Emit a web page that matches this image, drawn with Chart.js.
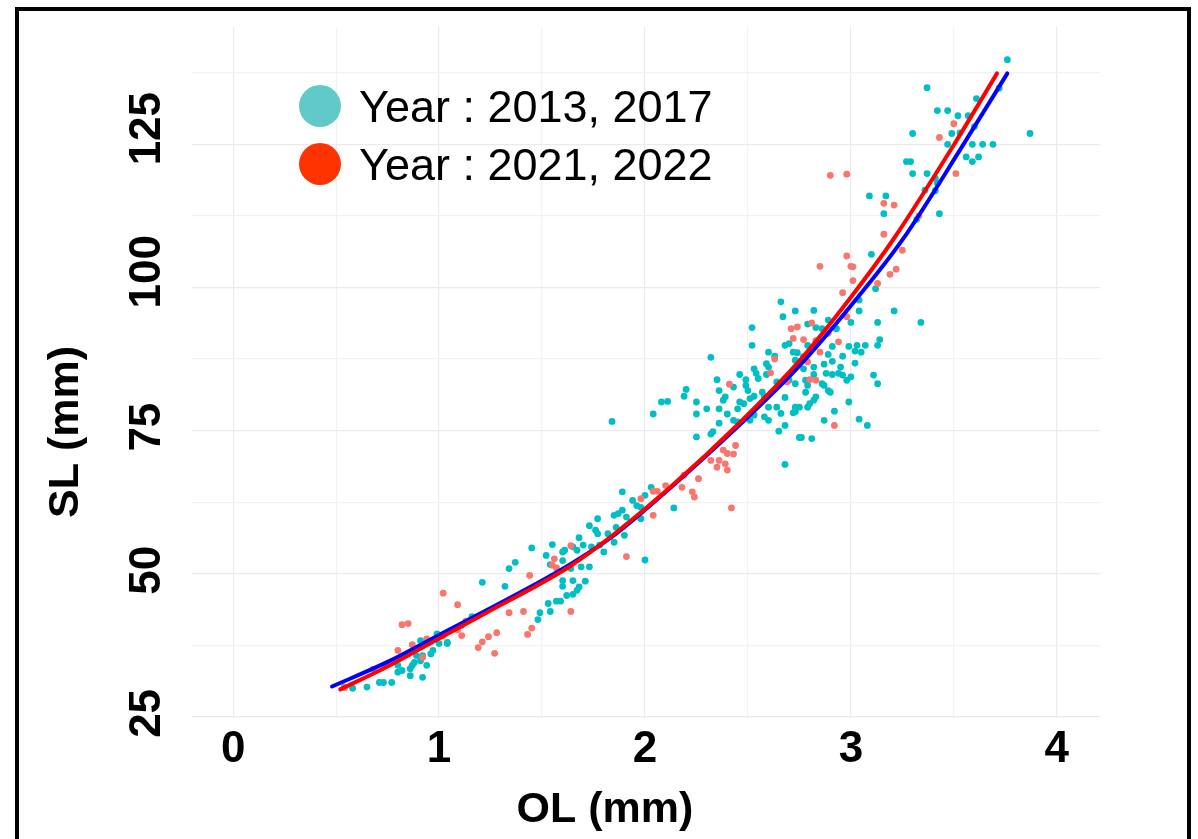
<!DOCTYPE html>
<html>
<head>
<meta charset="utf-8">
<title>SL vs OL</title>
<script src="https://cdn.jsdelivr.net/npm/chart.js@4.4.1/dist/chart.umd.min.js"></script>
<style>
  html, body { margin: 0; padding: 0; background: #ffffff; }
  #wrap { position: relative; width: 1198px; height: 839px; overflow: hidden; }
  #c { position: absolute; left: 0; top: 0; }
  #frame { position: absolute; left: 15px; top: 7px; width: 1176px; height: 900px; box-sizing: border-box;
           border: 4px solid #000; border-bottom: none; pointer-events: none; }
</style>
</head>
<body>
<div id="wrap">
  <canvas id="c" width="1198" height="839"></canvas>
  <div id="frame"></div>
</div>
<script>
// ---- Sampled otoliths, years 2013 & 2017: OL (mm) and SL (mm) ----
const olYearsA = [0.54,0.58,0.65,0.71,0.73,0.77,0.80,0.80,0.82,0.86,0.86,0.87,0.88,0.89,0.91,0.91,0.92,0.92,0.94,0.96,0.97,0.99,1.00,1.04,1.04,1.11,1.16,1.21,
  1.32,1.34,1.37,1.45,1.48,1.49,1.52,1.53,1.54,1.54,1.55,1.57,1.59,1.60,1.60,1.60,1.60,1.61,1.62,1.64,1.65,1.65,1.65,1.67,1.67,1.68,1.68,1.69,1.70,1.71,
  1.73,1.73,1.74,1.76,1.77,1.77,1.78,1.80,1.82,1.84,1.85,1.85,1.86,1.87,1.89,1.89,1.90,1.91,1.94,1.96,1.98,1.98,2.00,2.00,2.03,2.04,2.08,2.11,2.14,2.19,
  2.20,2.25,2.25,2.25,2.30,2.32,2.32,2.33,2.35,2.36,2.36,2.36,2.38,2.39,2.40,2.43,2.43,2.45,2.45,2.46,2.46,2.48,2.49,2.49,2.50,2.51,2.51,2.52,2.52,2.53,
  2.53,2.53,2.54,2.55,2.57,2.58,2.58,2.59,2.59,2.60,2.60,2.60,2.60,2.63,2.64,2.64,2.65,2.66,2.66,2.67,2.68,2.68,2.68,2.68,2.70,2.70,2.72,2.72,2.73,2.73,
  2.73,2.73,2.73,2.74,2.75,2.75,2.76,2.77,2.78,2.78,2.79,2.79,2.79,2.79,2.77,2.80,2.81,2.82,2.82,2.82,2.82,2.83,2.83,2.86,2.86,2.87,2.87,2.87,2.89,2.89,
  2.89,2.88,2.90,2.91,2.91,2.91,2.92,2.93,2.94,2.95,2.96,2.96,2.98,2.99,2.99,3.00,3.00,3.02,3.02,3.03,3.04,3.04,3.04,3.05,3.07,3.08,3.09,3.10,3.11,3.12,
  3.13,3.13,3.13,3.14,3.16,3.17,3.21,3.27,3.29,3.30,3.30,3.32,3.34,3.36,3.37,3.37,3.41,3.41,3.42,3.42,3.43,3.47,3.47,3.49,3.52,3.53,3.56,3.57,3.59,3.59,
  3.60,3.61,3.62,3.64,3.69,3.72,3.76,3.87];
const slYearsA = [30.2,30.0,30.2,31.0,31.0,31.0,34.0,32.8,33.1,32.2,33.4,34.0,34.5,35.7,34.8,38.3,35.7,31.9,34.0,36.0,36.6,39.5,37.8,37.8,38.0,41.0,42.5,48.5,
  47.8,50.9,52.0,54.5,42.0,43.2,53.2,44.8,43.4,51.6,55.1,45.2,45.2,53.8,47.8,52.3,48.8,54.1,46.2,50.9,46.4,54.7,48.8,54.1,47.1,47.7,56.3,51.2,55.0,48.7,
  58.4,51.2,54.7,57.6,59.6,57.0,55.0,53.8,57.0,76.6,60.2,55.5,58.1,60.5,61.1,64.3,56.7,59.9,62.8,61.9,61.6,59.6,52.4,63.7,65.1,77.9,80.0,80.1,61.5,81.0,
  82.2,73.9,80.0,77.9,78.8,87.8,74.4,74.8,83.9,82.0,78.8,76.3,80.3,80.9,77.9,76.8,82.6,76.5,78.8,84.8,80.0,79.7,82.9,83.9,82.0,80.6,76.8,89.9,93.0,77.7,
  85.8,81.0,85.0,84.1,81.7,80.9,77.4,86.7,84.8,88.7,79.1,76.8,86.1,88.0,83.5,79.1,74.9,97.5,78.0,94.9,75.9,69.1,89.9,80.8,90.2,83.8,88.7,78.1,79.1,95.9,
  87.3,83.2,78.3,88.6,73.8,79.1,73.8,87.9,83.8,81.7,93.6,89.9,82.9,79.1,85.8,79.7,73.6,96.0,86.1,84.8,80.3,93.0,80.9,92.8,83.2,86.6,82.9,76.8,94.3,88.3,
  82.0,85.0,81.7,87.1,89.7,84.8,78.4,92.8,85.0,86.1,88.0,84.7,83.8,89.7,80.0,84.4,93.9,88.9,86.8,89.9,97.8,95.9,77.0,88.7,89.9,75.9,116.0,105.8,84.7,99.8,
  89.9,83.2,93.9,90.9,112.9,116.0,95.9,122.0,122.0,119.9,126.9,111.9,93.9,117.0,134.9,119.9,119.1,116.9,130.9,118.2,112.9,130.9,125.0,126.9,130.0,127.0,122.8,130.0,125.0,122.0,
  128.1,133.0,122.8,125.0,125.0,134.8,139.8,126.9];

// ---- Sampled otoliths, years 2021 & 2022 ----
const olYearsB = [0.54,0.68,0.74,0.80,0.82,0.85,0.87,0.92,0.94,1.02,1.02,1.09,1.09,1.11,1.13,1.19,1.21,1.24,1.27,1.28,1.34,1.41,1.43,1.44,1.45,1.55,1.56,1.57,
  1.64,1.64,1.91,1.98,2.04,2.04,2.06,2.10,2.18,2.19,2.23,2.24,2.26,2.32,2.35,2.36,2.38,2.39,2.40,2.40,2.41,2.42,2.43,2.44,2.61,2.63,2.69,2.71,2.72,2.74,
  2.77,2.79,2.80,2.81,2.83,2.83,2.85,2.85,2.89,2.90,2.92,2.94,2.96,2.98,2.98,2.98,3.00,3.01,3.01,3.13,3.16,3.16,3.19,3.21,3.22,3.25,3.33,3.43,3.50,3.51];
const slYearsB = [30.1,33.3,34.1,36.6,41.1,41.3,37.6,35.4,38.6,46.6,39.2,40.2,44.6,39.2,41.7,37.1,38.1,39.0,36.1,39.7,43.2,43.4,39.4,49.7,40.5,51.5,52.6,51.0,
  43.4,54.9,53.0,63.1,64.4,60.2,64.4,65.4,65.1,67.2,64.3,63.4,66.6,69.8,68.6,69.8,71.6,69.2,71.0,68.1,83.1,61.5,70.9,72.4,85.1,87.5,83.5,92.8,91.1,93.1,
  90.9,87.0,83.9,93.8,83.8,90.7,88.7,103.7,92.0,119.6,75.9,90.5,99.1,105.5,94.9,119.8,103.7,101.2,103.6,100.7,114.7,109.3,102.3,114.4,103.2,106.5,112.5,126.2,128.6,119.9];

// ---- Fitted SL ~ OL curves, read along each fit ----
const fitOLYearsA = [0.48, 0.75, 1.00, 1.23, 1.64, 1.86, 2.12, 2.46, 2.75, 3.00, 3.25, 3.54, 3.76];
const fitSLYearsA = [30.3, 34.6, 39.3, 43.6, 51.7, 57.0, 64.9, 76.0, 86.3, 96.8, 108.3, 124.6, 137.4];
const fitOLYearsB = [0.52, 0.75, 1.00, 1.23, 1.64, 1.86, 2.12, 2.46, 2.75, 3.00, 3.21, 3.50, 3.71];
const fitSLYearsB = [29.8, 33.8, 38.7, 43.2, 51.4, 57.2, 65.0, 76.4, 87.2, 98.3, 108.6, 124.9, 137.4];

// ---- Legend, axes and ticks ----
const seriesLabels = ['Year : 2013, 2017', 'Year : 2021, 2022'];
const legendColors = ['#62C9C9', '#FF3300'];
const xTitle = 'OL (mm)';
const yTitle = 'SL (mm)';
const xTickValues = [0, 1, 2, 3, 4];
const xTickLabels = ['0', '1', '2', '3', '4'];
const xMinorValues = [0.5, 1.5, 2.5, 3.5];
const yTickValues = [25, 50, 75, 100, 125];
const yTickLabels = ['25', '50', '75', '100', '125'];
const yMinorValues = [37.5, 62.5, 87.5, 112.5, 137.5];

const FONT = '"Liberation Sans", Arial, Helvetica, sans-serif';

function pairs(xs, ys) { return xs.map((x, i) => ({ x: x, y: ys[i] })); }

function gridTicks(major, minor) {
  return major.concat(minor).sort((a, b) => a - b).map(v => ({ value: v }));
}

// Legend drawn inside the panel, plus axis titles
const panelText = {
  id: 'panelText',
  afterDraw(chart) {
    const { ctx, chartArea } = chart;
    ctx.save();
    // legend keys
    const keyX = chartArea.left + 128;
    const rows = [chartArea.top + 79, chartArea.top + 137];
    seriesLabels.forEach((lab, i) => {
      ctx.beginPath();
      ctx.fillStyle = legendColors[i];
      ctx.arc(keyX, rows[i], 21, 0, Math.PI * 2);
      ctx.fill();
      ctx.fillStyle = '#000';
      ctx.font = '45px ' + FONT;
      ctx.textAlign = 'left';
      ctx.textBaseline = 'middle';
      ctx.fillText(lab, keyX + 39, rows[i] + 4);
    });
    // axis titles
    ctx.font = 'bold 43px ' + FONT;
    ctx.textAlign = 'center';
    ctx.textBaseline = 'alphabetic';
    ctx.fillText(xTitle, chartArea.left + 413, chartArea.bottom + 104);
    ctx.translate(chartArea.left - 114, chartArea.top + 405);
    ctx.rotate(-Math.PI / 2);
    ctx.fillText(yTitle, 0, 0);
    ctx.restore();
  }
};

const gridColor = (list) => (c) => (c.tick && list.includes(c.tick.value)) ? '#EBEBEB' : '#F2F2F2';

new Chart(document.getElementById('c'), {
  type: 'scatter',
  data: {
    datasets: [
      { label: 'Fit ' + seriesLabels[1], data: pairs(fitOLYearsB, fitSLYearsB), showLine: true,
        borderColor: '#FF0000', borderWidth: 4, pointRadius: 0, fill: false,
        cubicInterpolationMode: 'monotone', borderCapStyle: 'round' },
      { label: 'Fit ' + seriesLabels[0], data: pairs(fitOLYearsA, fitSLYearsA), showLine: true,
        borderColor: '#0000FF', borderWidth: 4, pointRadius: 0, fill: false,
        cubicInterpolationMode: 'monotone', borderCapStyle: 'round' },
      { label: seriesLabels[1], data: pairs(olYearsB, slYearsB),
        backgroundColor: '#F8766D', borderWidth: 0, pointRadius: 3.4 },
      { label: seriesLabels[0], data: pairs(olYearsA, slYearsA),
        backgroundColor: '#00BFC4', borderWidth: 0, pointRadius: 3.4 }
    ]
  },
  options: {
    responsive: false,
    animation: false,
    devicePixelRatio: 1,
    layout: { padding: { left: 148, top: 27, right: 98, bottom: 0 } },
    plugins: { legend: { display: false }, tooltip: { enabled: false } },
    scales: {
      x: {
        type: 'linear', min: -0.2, max: 4.21,
        afterBuildTicks: (s) => { s.ticks = gridTicks(xTickValues, xMinorValues); },
        afterFit: (s) => { s.height = 121; },
        grid: { color: gridColor(xTickValues), lineWidth: 1.2, drawTicks: false },
        border: { display: false },
        ticks: {
          autoSkip: false, maxRotation: 0, padding: 5, color: '#000',
          font: { family: FONT, size: 44, weight: 'bold' },
          callback: (v) => { const i = xTickValues.indexOf(v); return i >= 0 ? xTickLabels[i] : ''; }
        }
      },
      y: {
        type: 'linear', min: 24.8, max: 145.5,
        afterBuildTicks: (s) => { s.ticks = gridTicks(yTickValues, yMinorValues); },
        afterFit: (s) => { s.width = 44; },
        grid: { color: gridColor(yTickValues), lineWidth: 1.2, drawTicks: false },
        border: { display: false },
        ticks: {
          autoSkip: false, minRotation: 90, maxRotation: 90,
          mirror: true, crossAlign: 'near', padding: -44, labelOffset: 21,
          color: '#000', font: { family: FONT, size: 44, weight: 'bold' },
          callback: (v) => { const i = yTickValues.indexOf(v); return i >= 0 ? yTickLabels[i] : ''; }
        }
      }
    }
  },
  plugins: [panelText]
});
</script>
</body>
</html>
